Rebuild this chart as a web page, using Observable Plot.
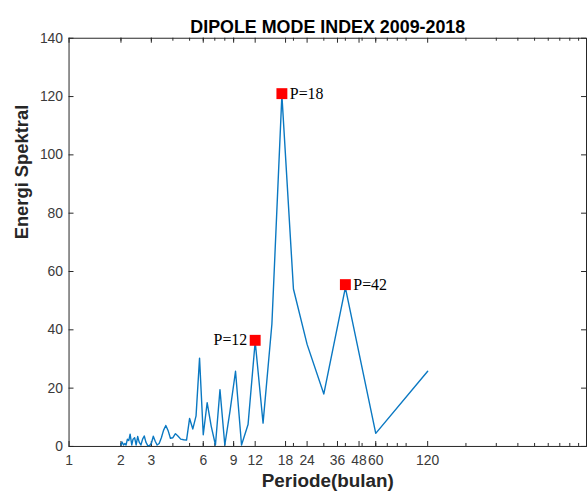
<!DOCTYPE html>
<html><head><meta charset="utf-8">
<script src="https://cdn.jsdelivr.net/npm/d3@7"></script>
<script src="https://cdn.jsdelivr.net/npm/@observablehq/plot@0.6"></script>
<style>html,body{margin:0;padding:0;overflow:hidden;background:#fff}</style>
</head><body><div id="chart"></div>
<script>
const periods = [120, 60, 40, 30, 24, 20, 17.14, 15, 13.33, 12, 10.91, 10, 9.23, 8.57, 8, 7.5, 7.06, 6.67, 6.32, 6,
  5.71, 5.45, 5.22, 5, 4.8, 4.62, 4.44, 4.29, 4.14, 4, 3.87, 3.75, 3.64, 3.53, 3.43, 3.33, 3.24, 3.16, 3.08, 3,
  2.93, 2.86, 2.79, 2.73, 2.67, 2.61, 2.55, 2.5, 2.45, 2.4, 2.35, 2.31, 2.26, 2.22, 2.18, 2.14, 2.11, 2.07, 2.03, 2];
const energy = [25.8, 4.5, 54.5, 18, 35, 54, 120.5, 42, 8, 36, 7.5, 0.5, 25.8, 12, 0.5, 19.5, 0.5, 7, 15, 4,
  30.3, 10.5, 6, 9.6, 2.2, 2.3, 2.5, 3.5, 4.4, 3, 2.8, 5.5, 7.2, 5.5, 3, 1, 0.5, 1.8, 3.5, 1,
  0.3, 0.3, 1.5, 3.6, 2.5, 0.5, 1.5, 3.4, 0.5, 3, 2.5, 0.5, 4.2, 2, 2.5, 0.5, 1, 0.5, 1.5, 0.5];
const xTickValues = [1, 2, 3, 6, 9, 12, 18, 24, 36, 48, 60, 120];
const xMinorTicks = [2, 3, 4, 5, 6, 7, 8, 9, 20, 30, 40, 50, 60, 70, 80, 90, 200, 300, 400, 500, 600, 700, 800, 900];
const yTickValues = [0, 20, 40, 60, 80, 100, 120, 140];
const peakPeriods = [17.14, 12, 40];
const peakValues = [121, 36.4, 55.5];
const peakLabels = ["P=18", "P=12", "P=42"];
const peakSide = ["right", "left", "right"];
const titleText = "DIPOLE MODE INDEX 2009-2018";
const xLabel = "Periode(bulan)";
const yLabel = "Energi Spektral";

const data = periods.map((p, i) => ({period: p, energy: energy[i]}));
const peaks = peakPeriods.map((p, i) => ({period: p, value: peakValues[i], label: peakLabels[i], side: peakSide[i]}));

const W = 592, H = 500, mL = 69, mR = 2, mT = 38, mB = 51;
const fw = W - mL - mR, fh = H - mT - mB;
const axisColor = "#262626";

const chart = Plot.plot({
  width: W, height: H,
  marginLeft: mL, marginRight: mR, marginTop: mT, marginBottom: mB,
  style: {fontFamily: "'Liberation Sans', Arial, sans-serif", background: "#fff"},
  x: {type: "log", domain: [1, 1000], axis: null},
  y: {domain: [0, 140], axis: null},
  marks: [
    Plot.frame({stroke: axisColor, strokeWidth: 1}),
    Plot.ruleX(xMinorTicks, {x: d => d, insetTop: fh - 3, stroke: axisColor}),
    Plot.ruleX(xMinorTicks, {x: d => d, insetBottom: fh - 3, stroke: axisColor}),
    Plot.ruleX(xTickValues, {x: d => d, insetTop: fh - 5, stroke: axisColor}),
    Plot.ruleX(xTickValues, {x: d => d, insetBottom: fh - 5, stroke: axisColor}),
    Plot.ruleY(yTickValues, {y: d => d, insetRight: fw - 5, stroke: axisColor}),
    Plot.ruleY(yTickValues, {y: d => d, insetLeft: fw - 5, stroke: axisColor}),
    Plot.text(xTickValues, {x: d => d, frameAnchor: "bottom", dy: 19, text: d => String(d), fontSize: 14, fill: "#3a3a3a"}),
    Plot.text(yTickValues, {y: d => d, frameAnchor: "left", dx: -6, textAnchor: "end", text: d => String(d), fontSize: 14, fill: "#3a3a3a"}),
    Plot.line(data, {x: "period", y: "energy", stroke: "#0a78c2", strokeWidth: 1.4}),
    Plot.dot(peaks, {x: "period", y: "value", symbol: "square", r: 6.2, fill: "#ff0000", stroke: null}),
    Plot.text(peaks.filter(d => d.side === "right"), {x: "period", y: "value", text: "label", textAnchor: "start", dx: 8,
      fontFamily: "'Liberation Serif', 'Times New Roman', serif", fontSize: 16, fill: "#000"}),
    Plot.text(peaks.filter(d => d.side === "left"), {x: "period", y: "value", text: "label", textAnchor: "end", dx: -8,
      fontFamily: "'Liberation Serif', 'Times New Roman', serif", fontSize: 16, fill: "#000"}),
    Plot.text([titleText], {text: d => d, frameAnchor: "top", dy: -18, fontWeight: "bold", fontSize: 18, fill: "#000"}),
    Plot.text([xLabel], {text: d => d, frameAnchor: "bottom", dy: 41, fontWeight: "bold", fontSize: 19, fill: axisColor}),
    Plot.text([yLabel], {text: d => d, frameAnchor: "left", dx: -47, dy: -3, rotate: -90, fontWeight: "bold", fontSize: 18.5, fill: axisColor})
  ]
});
document.getElementById("chart").appendChild(chart);
</script>
</body></html>
